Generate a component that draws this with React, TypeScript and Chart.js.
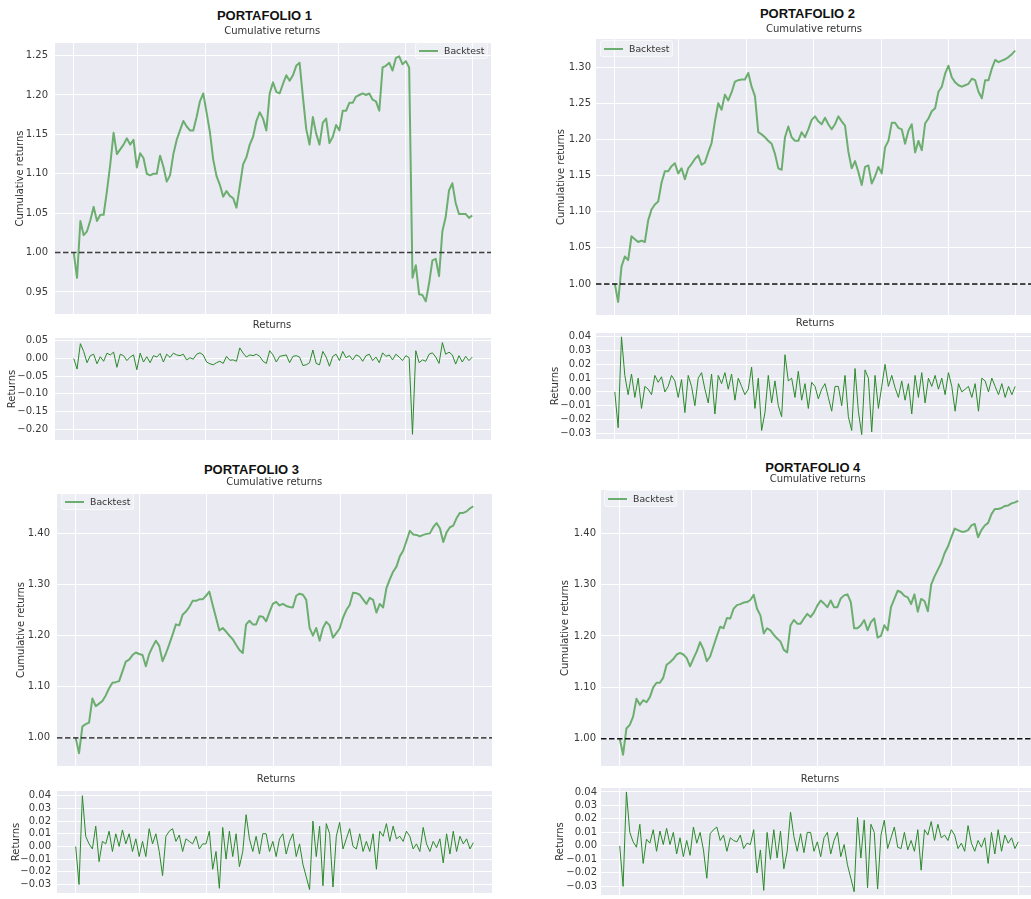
import React, { useEffect, useRef } from "react";
import { Chart, registerables } from "chart.js";

Chart.register(...registerables);

// ---------- DATA ----------
const xGridFractions = [0, 0.16, 0.33, 0.497, 0.665, 0.833, 1];
const baselineValue = 1.0;

const p1Cumulative = [
  1.000, 0.968, 1.040, 1.022, 1.027, 1.041, 1.058, 1.040, 1.048, 1.048,
  1.078, 1.112, 1.152, 1.125, 1.131, 1.137, 1.145, 1.137, 1.143, 1.108,
  1.126, 1.120, 1.100, 1.098, 1.100, 1.100, 1.123, 1.109, 1.090, 1.098,
  1.125, 1.143, 1.155, 1.167, 1.160, 1.155, 1.155, 1.172, 1.192, 1.202,
  1.178, 1.153, 1.118, 1.097, 1.086, 1.071, 1.078, 1.072, 1.069, 1.057,
  1.084, 1.112, 1.121, 1.137, 1.147, 1.167, 1.178, 1.170, 1.155, 1.202,
  1.216, 1.204, 1.202, 1.214, 1.225, 1.218, 1.225, 1.237, 1.241, 1.198,
  1.157, 1.137, 1.172, 1.151, 1.137, 1.165, 1.170, 1.139, 1.147, 1.162,
  1.155, 1.180, 1.180, 1.190, 1.190, 1.198, 1.200, 1.202, 1.200, 1.202,
  1.194, 1.192, 1.180, 1.235, 1.237, 1.241, 1.231, 1.247, 1.249, 1.239,
  1.243, 1.235, 0.968, 0.984, 0.947, 0.946, 0.938, 0.961, 0.990, 0.992,
  0.970, 1.027, 1.045, 1.079, 1.088, 1.063, 1.049, 1.049, 1.049, 1.044,
  1.047,
];
const p1Returns = [
  0.000, -0.030, 0.042, 0.020, -0.012, 0.008, 0.012, -0.015, 0.005, -0.008,
  0.015, 0.010, 0.018, -0.025, 0.012, 0.008, -0.006, 0.004, 0.010, -0.032,
  0.015, -0.010, 0.005, -0.012, 0.008, 0.004, 0.014, -0.010, 0.012, 0.003,
  0.015, 0.010, 0.008, 0.012, -0.004, 0.002, -0.002, 0.012, 0.016, 0.010,
  -0.010, -0.015, -0.018, -0.012, -0.008, -0.014, 0.006, -0.005, -0.004, -0.008,
  0.030, 0.015, 0.004, 0.010, 0.008, 0.012, 0.006, -0.008, -0.014, 0.022,
  0.010, -0.010, 0.006, 0.008, 0.010, -0.012, 0.006, 0.008, 0.004, -0.020,
  -0.018, -0.012, 0.024, -0.014, -0.018, 0.020, 0.004, -0.022, 0.006, 0.012,
  -0.006, 0.020, 0.002, 0.008, -0.004, 0.010, 0.006, -0.008, 0.008, 0.012,
  -0.006, 0.004, -0.012, 0.016, 0.006, 0.010, -0.004, 0.012, 0.004, -0.006,
  0.008, 0.002, -0.215, 0.022, -0.012, -0.004, -0.008, 0.012, 0.016, 0.004,
  -0.014, 0.045, 0.012, 0.018, 0.010, -0.016, 0.008, -0.010, 0.006, -0.006,
  0.004,
];

const p2Cumulative = [
  1.000, 0.975, 1.024, 1.038, 1.033, 1.066, 1.062, 1.058, 1.060, 1.058,
  1.088, 1.103, 1.110, 1.114, 1.140, 1.156, 1.156, 1.163, 1.167, 1.153,
  1.160, 1.145, 1.160, 1.166, 1.173, 1.178, 1.165, 1.168, 1.182, 1.195,
  1.225, 1.250, 1.241, 1.262, 1.254, 1.265, 1.280, 1.282, 1.283, 1.283,
  1.292, 1.273, 1.260, 1.210, 1.207, 1.203, 1.198, 1.194, 1.180, 1.160,
  1.158, 1.203, 1.218, 1.203, 1.198, 1.198, 1.210, 1.203, 1.214, 1.227,
  1.232, 1.225, 1.221, 1.230, 1.221, 1.214, 1.221, 1.232, 1.225, 1.219,
  1.183, 1.160, 1.170, 1.155, 1.137, 1.162, 1.164, 1.139, 1.149, 1.162,
  1.153, 1.189, 1.198, 1.223, 1.223, 1.216, 1.214, 1.194, 1.212, 1.221,
  1.182, 1.198, 1.185, 1.222, 1.229, 1.239, 1.243, 1.266, 1.273, 1.291,
  1.302, 1.286, 1.279, 1.275, 1.273, 1.275, 1.277, 1.284, 1.282, 1.266,
  1.257, 1.282, 1.282, 1.298, 1.310, 1.307, 1.309, 1.311, 1.314, 1.318,
  1.323,
];
const p2Returns = [
  0.000, -0.026, 0.040, 0.012, -0.002, 0.013, -0.004, 0.010, -0.012, 0.004,
  0.002, -0.002, 0.012, 0.007, 0.011, 0.000, 0.004, 0.012, 0.008, -0.004,
  0.009, -0.015, 0.012, 0.004, -0.010, 0.010, 0.014, 0.002, -0.008, 0.013,
  -0.016, 0.012, 0.006, 0.014, 0.002, 0.013, -0.006, 0.010, 0.004, -0.002,
  0.002, 0.018, -0.012, 0.010, -0.028, -0.015, 0.012, -0.008, 0.008, -0.010,
  -0.018, 0.027, 0.008, 0.010, -0.004, 0.015, -0.006, 0.006, -0.012, 0.007,
  0.004, -0.005, 0.002, 0.006, -0.004, -0.014, 0.004, 0.004, -0.010, 0.012,
  -0.018, -0.028, 0.017, -0.014, -0.031, 0.016, 0.010, -0.029, 0.012, -0.012,
  0.004, 0.020, 0.004, 0.012, 0.003, -0.004, 0.008, -0.006, 0.006, -0.016,
  0.012, -0.004, 0.014, -0.008, 0.010, 0.004, 0.012, 0.002, 0.010, -0.002,
  0.014, 0.004, -0.014, 0.006, 0.000, 0.002, 0.004, -0.004, 0.006, -0.014,
  0.010, 0.008, 0.000, 0.010, 0.004, -0.002, 0.006, -0.004, 0.004, -0.002,
  0.004,
];

const p3Cumulative = [
  1.000, 0.970, 1.022, 1.027, 1.030, 1.077, 1.062, 1.067, 1.072, 1.083,
  1.097, 1.108, 1.109, 1.111, 1.130, 1.149, 1.153, 1.162, 1.167, 1.164,
  1.162, 1.140, 1.164, 1.178, 1.190, 1.180, 1.150, 1.165, 1.183, 1.202,
  1.222, 1.220, 1.241, 1.247, 1.256, 1.268, 1.268, 1.271, 1.271, 1.278,
  1.286, 1.260, 1.235, 1.210, 1.215, 1.208, 1.200, 1.193, 1.182, 1.172,
  1.166, 1.222, 1.229, 1.222, 1.222, 1.238, 1.237, 1.228, 1.246, 1.262,
  1.266, 1.259, 1.262, 1.258, 1.256, 1.255, 1.278, 1.282, 1.280, 1.270,
  1.215, 1.200, 1.215, 1.190, 1.215, 1.227, 1.220, 1.196, 1.205, 1.214,
  1.235, 1.250, 1.260, 1.284, 1.283, 1.280, 1.271, 1.262, 1.274, 1.270,
  1.245, 1.262, 1.255, 1.293, 1.310, 1.325, 1.335, 1.355, 1.366, 1.385,
  1.405, 1.398, 1.397, 1.394, 1.397, 1.399, 1.400, 1.412, 1.420, 1.410,
  1.383, 1.402, 1.412, 1.415, 1.430, 1.440, 1.440, 1.443, 1.449, 1.453,
];
const p3Returns = [
  0.000, -0.030, 0.040, 0.008, 0.002, -0.002, 0.016, -0.012, 0.004, 0.002,
  0.012, -0.004, 0.010, 0.000, 0.013, 0.002, 0.010, -0.004, 0.006, -0.008,
  0.004, -0.008, 0.014, 0.002, 0.010, -0.004, -0.023, 0.008, 0.012, 0.014,
  0.004, 0.009, -0.004, 0.006, 0.004, 0.002, 0.008, -0.002, 0.002, 0.002,
  0.012, -0.018, -0.004, -0.033, 0.015, -0.010, 0.012, -0.008, 0.010, -0.016,
  -0.004, 0.025, 0.006, -0.004, 0.008, -0.006, 0.010, 0.010, -0.004, 0.004,
  -0.008, 0.006, 0.010, -0.006, 0.004, 0.010, -0.008, 0.002, -0.014, -0.024,
  -0.034, 0.020, -0.008, 0.016, -0.031, 0.018, 0.010, -0.032, 0.008, 0.019,
  -0.002, 0.006, 0.014, 0.000, -0.002, 0.010, -0.004, 0.004, -0.004, 0.010,
  -0.018, 0.012, 0.008, 0.018, 0.004, 0.016, 0.006, 0.008, 0.004, 0.012,
  0.008, -0.002, 0.002, -0.004, 0.015, 0.002, -0.004, 0.004, -0.001, 0.006,
  -0.013, 0.010, -0.006, 0.012, -0.004, 0.008, 0.002, 0.006, -0.002, 0.003,
];

const p4Cumulative = [
  1.000, 0.969, 1.020, 1.027, 1.043, 1.078, 1.066, 1.075, 1.071, 1.081,
  1.100, 1.109, 1.109, 1.119, 1.144, 1.149, 1.155, 1.164, 1.167, 1.164,
  1.157, 1.141, 1.156, 1.170, 1.188, 1.174, 1.151, 1.160, 1.180, 1.200,
  1.218, 1.215, 1.235, 1.234, 1.253, 1.260, 1.262, 1.265, 1.266, 1.270,
  1.280, 1.253, 1.240, 1.205, 1.215, 1.211, 1.202, 1.195, 1.189, 1.173,
  1.168, 1.221, 1.231, 1.224, 1.224, 1.234, 1.243, 1.237, 1.246, 1.259,
  1.269, 1.263, 1.256, 1.269, 1.256, 1.256, 1.273, 1.279, 1.281, 1.266,
  1.215, 1.215, 1.221, 1.231, 1.211, 1.227, 1.234, 1.197, 1.200, 1.221,
  1.211, 1.256, 1.272, 1.288, 1.285, 1.278, 1.275, 1.262, 1.281, 1.247,
  1.272, 1.268, 1.248, 1.300, 1.316, 1.329, 1.342, 1.361, 1.374, 1.392,
  1.409, 1.406, 1.403, 1.403, 1.406, 1.415, 1.418, 1.392, 1.406, 1.415,
  1.420, 1.437, 1.447, 1.447, 1.449, 1.453, 1.454, 1.458, 1.460, 1.463,
];
const p4Returns = [
  0.000, -0.030, 0.040, 0.010, 0.003, -0.001, 0.016, -0.013, 0.005, 0.002,
  0.012, -0.004, 0.011, 0.001, 0.013, 0.001, 0.010, -0.006, 0.006, -0.008,
  0.004, -0.007, 0.014, 0.002, 0.010, -0.003, -0.024, 0.009, 0.012, 0.014,
  0.004, 0.008, -0.004, 0.006, 0.004, 0.003, 0.008, -0.002, 0.002, 0.001,
  0.012, -0.020, -0.003, -0.033, 0.010, -0.010, 0.012, -0.009, 0.011, -0.017,
  -0.004, 0.025, 0.007, -0.004, 0.009, -0.005, 0.010, 0.010, -0.004, 0.003,
  -0.008, 0.006, 0.010, -0.006, 0.004, 0.010, -0.008, 0.001, -0.014, -0.024,
  -0.034, 0.021, -0.009, 0.019, -0.031, 0.016, 0.010, -0.032, 0.008, 0.019,
  -0.002, 0.006, 0.014, -0.001, -0.002, 0.010, -0.003, 0.004, -0.004, 0.012,
  -0.018, 0.012, 0.008, 0.018, 0.004, 0.016, 0.006, 0.008, 0.004, 0.012,
  0.008, -0.002, 0.002, -0.004, 0.015, 0.002, -0.004, 0.004, -0.001, 0.006,
  -0.013, 0.010, -0.006, 0.012, -0.004, 0.008, 0.002, 0.006, -0.002, 0.003,
];

const p1CumTicks = [0.95, 1.0, 1.05, 1.1, 1.15, 1.2, 1.25];
const p1RetTicks = [-0.2, -0.15, -0.1, -0.05, 0, 0.05];
const p2CumTicks = [1.0, 1.05, 1.1, 1.15, 1.2, 1.25, 1.3];
const smallRetTicks = [-0.03, -0.02, -0.01, 0, 0.01, 0.02, 0.03, 0.04];
const p34CumTicks = [1.0, 1.1, 1.2, 1.3, 1.4];

const portfolioTitles = ["PORTAFOLIO 1", "PORTAFOLIO 2", "PORTAFOLIO 3", "PORTAFOLIO 4"];
const seriesName = "Backtest";

// ---------- STYLE / LAYOUT ----------
const FONT = "'DejaVu Sans', sans-serif";
const BG = "#EAEAF2";
const CUM_COLOR = "#6cae6f";
const RET_COLOR = "#2a8a2a";
const TEXT = "#333";

type Box = { left: number; top: number; width: number; height: number; axis: number; label: number; tickPad: number };

const formatTick = (v: number) => v.toFixed(2).replace("-", "\u2212");

type SeriesChartProps = {
  values: number[];
  ticks: number[];
  yMin: number;
  yMax: number;
  box: Box;
  yTitle: string;
  color: string;
  lineWidth: number;
  baselineColor?: string;
};

function SeriesChart({ values, ticks, yMin, yMax, box, yTitle, color, lineWidth, baselineColor }: SeriesChartProps) {
  const ref = useRef<HTMLCanvasElement | null>(null);
  useEffect(() => {
    const canvas = ref.current;
    if (!canvas) return;
    const n = values.length - 1;
    const margin = 0.047;
    const background = {
      id: "plotBackground",
      beforeDraw(chart: any) {
        const { ctx, chartArea: a } = chart;
        ctx.save();
        ctx.fillStyle = BG;
        ctx.fillRect(a.left, a.top, a.right - a.left, a.bottom - a.top);
        ctx.restore();
      },
    };
    const refLine = {
      id: "refLine",
      afterDatasetsDraw(chart: any) {
        if (!baselineColor) return;
        const { ctx, chartArea: a } = chart;
        const y = chart.scales.y.getPixelForValue(baselineValue);
        ctx.save();
        ctx.strokeStyle = baselineColor;
        ctx.lineWidth = 1.4;
        ctx.setLineDash([5.5, 2.5]);
        ctx.beginPath();
        ctx.moveTo(a.left, y);
        ctx.lineTo(a.right, y);
        ctx.stroke();
        ctx.restore();
      },
    };
    const chart = new Chart(canvas, {
      type: "line",
      data: {
        datasets: [
          {
            label: seriesName,
            data: values.map((v, i) => ({ x: i, y: v })),
            borderColor: color,
            borderWidth: lineWidth,
            pointRadius: 0,
            tension: 0,
            fill: false,
            borderJoinStyle: "round",
          },
        ],
      },
      options: {
        animation: false,
        responsive: false,
        events: [],
        layout: { padding: { top: 8, bottom: 8, left: 0, right: 0 } },
        plugins: { legend: { display: false }, title: { display: false }, tooltip: { enabled: false } },
        scales: {
          x: {
            type: "linear",
            min: -margin * n,
            max: (1 + margin) * n,
            ticks: { display: false },
            grid: { color: "#ffffff", lineWidth: 1, drawTicks: false },
            border: { display: false },
            afterBuildTicks: (s: any) => {
              s.ticks = xGridFractions.map((f) => ({ value: f * n }));
            },
            afterFit: (s: any) => {
              s.height = 0;
            },
          },
          y: {
            type: "linear",
            min: yMin,
            max: yMax,
            ticks: {
              autoSkip: false,
              padding: box.tickPad,
              color: "#3a3a3a",
              font: { family: FONT, size: 10 },
              callback: (v: any) => formatTick(Number(v)),
            },
            grid: { color: "#ffffff", lineWidth: 1, drawTicks: false },
            border: { display: false },
            title: {
              display: true,
              text: yTitle,
              color: TEXT,
              font: { family: FONT, size: 10 },
              padding: { top: box.label, bottom: 0 },
            },
            afterBuildTicks: (s: any) => {
              s.ticks = ticks.map((v) => ({ value: v }));
            },
            afterFit: (s: any) => {
              s.width = box.axis;
            },
          },
        },
      } as any,
      plugins: [background, refLine],
    });
    return () => chart.destroy();
  }, []);
  return (
    <canvas
      ref={ref}
      width={box.width}
      height={box.height}
      style={{ position: "absolute", left: box.left, top: box.top, width: box.width, height: box.height }}
    />
  );
}

function Label({ x, y, text, bold }: { x: number; y: number; text: string; bold?: boolean }) {
  return (
    <div
      style={{
        position: "absolute",
        left: x,
        top: y,
        transform: "translate(-50%, -50%)",
        whiteSpace: "nowrap",
        lineHeight: 1,
        fontFamily: bold ? "'Liberation Sans', Arial, sans-serif" : FONT,
        fontWeight: bold ? 700 : 400,
        fontSize: bold ? 13 : 10,
        color: bold ? "#111" : TEXT,
      }}
    >
      {text}
    </div>
  );
}

function LegendBox({ x, y }: { x: number; y: number }) {
  return (
    <div
      style={{
        position: "absolute",
        left: x,
        top: y - 8.5,
        width: 73,
        height: 17,
        boxSizing: "border-box",
        background: "rgba(255,255,255,0.22)",
        border: "1px solid rgba(255,255,255,0.55)",
        borderRadius: 3,
      }}
    >
      <div style={{ position: "absolute", left: 3, top: 7, width: 19, height: 2, background: CUM_COLOR }} />
      <span
        style={{
          position: "absolute",
          left: 28,
          top: 0,
          lineHeight: "15px",
          fontFamily: FONT,
          fontSize: 9.3,
          color: TEXT,
          whiteSpace: "nowrap",
        }}
      >
        {seriesName}
      </span>
    </div>
  );
}

export default function App() {
  return (
    <div style={{ position: "fixed", left: 0, top: 0, width: 1031, height: 899, overflow: "hidden", background: "#fff" }}>
      {/* Portfolio 1 */}
      <SeriesChart values={p1Cumulative} ticks={p1CumTicks} yMin={0.922} yMax={1.266}
        box={{ left: 0, top: 30, width: 491, height: 297, axis: 55, label: 14, tickPad: 7 }}
        yTitle="Cumulative returns" color={CUM_COLOR} lineWidth={2} baselineColor="#3c3c3c" />
      <SeriesChart values={p1Returns} ticks={p1RetTicks} yMin={-0.231} yMax={0.058}
        box={{ left: 0, top: 325, width: 491, height: 128, axis: 55, label: 6.7, tickPad: 7 }}
        yTitle="Returns" color={RET_COLOR} lineWidth={1} />
      {/* Portfolio 2 */}
      <SeriesChart values={p2Cumulative} ticks={p2CumTicks} yMin={0.957} yMax={1.339}
        box={{ left: 515, top: 28, width: 519, height: 298, axis: 81, label: 40.7, tickPad: 5 }}
        yTitle="Cumulative returns" color={CUM_COLOR} lineWidth={2} baselineColor="#111" />
      <SeriesChart values={p2Returns} ticks={smallRetTicks} yMin={-0.0342} yMax={0.0428}
        box={{ left: 515, top: 322, width: 519, height: 128, axis: 81, label: 34, tickPad: 5 }}
        yTitle="Returns" color={RET_COLOR} lineWidth={1} />
      {/* Portfolio 3 */}
      <SeriesChart values={p3Cumulative} ticks={p34CumTicks} yMin={0.945} yMax={1.477}
        box={{ left: 0, top: 481, width: 492, height: 298, axis: 57, label: 15.7, tickPad: 7 }}
        yTitle="Cumulative returns" color={CUM_COLOR} lineWidth={2} baselineColor="#111" />
      <SeriesChart values={p3Returns} ticks={smallRetTicks} yMin={-0.0367} yMax={0.0437}
        box={{ left: 0, top: 779, width: 492, height: 126, axis: 57, label: 10, tickPad: 6 }}
        yTitle="Returns" color={RET_COLOR} lineWidth={1} />
      {/* Portfolio 4 */}
      <SeriesChart values={p4Cumulative} ticks={p34CumTicks} yMin={0.947} yMax={1.484}
        box={{ left: 515, top: 479, width: 522, height: 298, axis: 86, label: 44, tickPad: 5 }}
        yTitle="Cumulative returns" color={CUM_COLOR} lineWidth={2} baselineColor="#111" />
      <SeriesChart values={p4Returns} ticks={smallRetTicks} yMin={-0.0364} yMax={0.0429}
        box={{ left: 515, top: 778, width: 522, height: 127, axis: 86, label: 39, tickPad: 4 }}
        yTitle="Returns" color={RET_COLOR} lineWidth={1} />

      {/* Titles */}
      <Label x={264.5} y={15} text={portfolioTitles[0]} bold />
      <Label x={272.3} y={30.7} text="Cumulative returns" />
      <Label x={272} y={325} text="Returns" />
      <Label x={807.5} y={12.7} text={portfolioTitles[1]} bold />
      <Label x={814} y={29} text="Cumulative returns" />
      <Label x={815} y={323.3} text="Returns" />
      <Label x={251.5} y={469} text={portfolioTitles[2]} bold />
      <Label x={274.3} y={481.7} text="Cumulative returns" />
      <Label x={276} y={779.3} text="Returns" />
      <Label x={812.8} y={467.3} text={portfolioTitles[3]} bold />
      <Label x={817.7} y={479.3} text="Cumulative returns" />
      <Label x={820} y={779} text="Returns" />

      {/* Legends */}
      <LegendBox x={415} y={50} />
      <LegendBox x={600} y={48} />
      <LegendBox x={61} y={501} />
      <LegendBox x={604} y={498.5} />
    </div>
  );
}
